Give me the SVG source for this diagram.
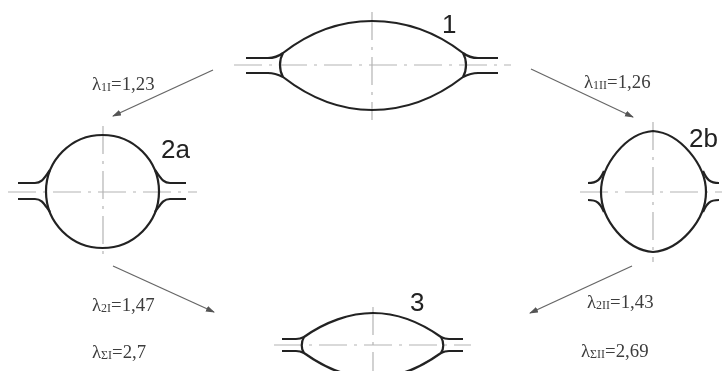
<svg xmlns="http://www.w3.org/2000/svg" width="722" height="371" viewBox="0 0 722 371">
<style>
.o{fill:none;stroke:#222;stroke-width:2.200}
.a{fill:none;stroke:#b4b4b4;stroke-width:1.2;stroke-dasharray:28 7 3 7}
.c{fill:none;stroke:#666;stroke-width:1.3}
.t{font-family:"Liberation Serif",serif;font-size:18.800px;fill:#3c3c3c}
.s{font-size:12px}
.n{font-family:"Liberation Sans",sans-serif;font-size:26px;fill:#222}
</style>
<defs>
<marker id="h" markerUnits="userSpaceOnUse" markerWidth="9" markerHeight="7" refX="8" refY="3" orient="auto"><path d="M0 0L9 3L0 6Z" fill="#555"/></marker>
<filter id="b" x="-5%" y="-5%" width="110%" height="110%"><feGaussianBlur stdDeviation="0.45"/></filter>
</defs>
<rect width="722" height="371" fill="#fff"/>
<g filter="url(#b)">
<g id="connectors">
<path class="c" marker-end="url(#h)" d="M213 70L113 116"/>
<path class="c" marker-end="url(#h)" d="M531 69L633 117"/>
<path class="c" marker-end="url(#h)" d="M113 266L214 312"/>
<path class="c" marker-end="url(#h)" d="M632 266L530 313"/>
</g>
<g id="node-1">
<path class="a" d="M234 65H511M372 12V120"/>
<path class="o" d="M283 53C310 32 340 21 372 21C404 21 436 32 463 53C467 60 467 70 463 77C436 98 404 110 372 110C340 110 310 98 283 77C279 70 279 60 283 53Z"/>
<path class="o" d="M246 58H268C275 58 279 56 283 53M246 73H268C275 73 279 75 283 77M498 58H478C471 58 467 56 463 53M498 73H478C471 73 467 75 463 77"/>
<text class="n" x="442" y="33">1</text>
</g>
<g id="node-2a">
<path class="a" d="M8 192H197M103 126V258"/>
<circle class="o" cx="102.500" cy="191.500" r="56.500"/>
<path class="o" d="M18 183H35C42 183 44 178 50 170M18 199H35C42 199 44 204 50 212M186 183H170C163 183 161 178 155 170M186 199H170C163 199 161 204 155 212"/>
<text class="n" x="161" y="158">2a</text>
</g>
<g id="node-2b">
<path class="a" d="M580 192H722M653 122V262"/>
<path class="o" d="M653 131C680 133 706 165 706 192C706 220 680 250 653 252C626 250 601 220 601 192C601 165 626 133 653 131Z"/>
<path class="o" d="M588 183C597 183 600 180 604 171M588 200C597 200 600 203 604 212M719 183C710 183 707 180 703 171M719 200C710 200 707 203 703 212"/>
<text class="n" x="689" y="147">2b</text>
</g>
<g id="node-3">
<path class="a" d="M274 345H471M373 307V371"/>
<path class="o" d="M304 337C325 322 350 313 373 313C396 313 420 322 441 337C444 342 444 349 441 353C420 368 396 378 373 378C350 378 325 368 304 353C301 349 301 342 304 337Z"/>
<path class="o" d="M282 339H296C300 339 302 338 304 337M282 351H296C300 351 302 352 304 353M463 339H449C445 339 443 338 441 337M463 351H449C445 351 443 352 441 353"/>
<text class="n" x="410" y="311">3</text>
</g>
<g id="labels">
<text class="t" x="92" y="90">λ<tspan class="s" dy="1">1I</tspan><tspan dy="-1">=1,23</tspan></text>
<text class="t" x="584" y="88">λ<tspan class="s" dy="1">1II</tspan><tspan dy="-1">=1,26</tspan></text>
<text class="t" x="92" y="311">λ<tspan class="s" dy="1">2I</tspan><tspan dy="-1">=1,47</tspan></text>
<text class="t" x="92" y="358">λ<tspan class="s" dy="1">ΣI</tspan><tspan dy="-1">=2,7</tspan></text>
<text class="t" x="587" y="308">λ<tspan class="s" dy="1">2II</tspan><tspan dy="-1">=1,43</tspan></text>
<text class="t" x="581" y="357">λ<tspan class="s" dy="1">ΣII</tspan><tspan dy="-1">=2,69</tspan></text>
</g>
</g>
</svg>
